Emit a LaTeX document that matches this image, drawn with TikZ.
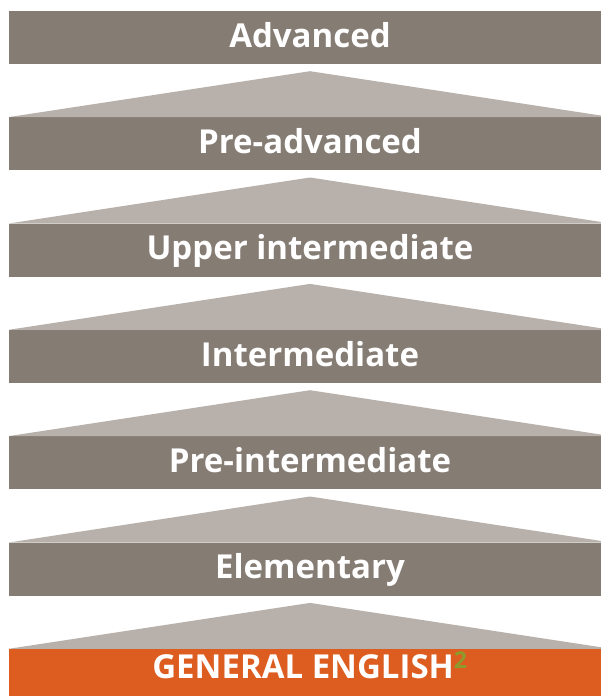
\documentclass[tikz,border=0pt]{standalone}
\usepackage{fontspec}
\setmainfont{Open Sans}
\usepackage{tikz}

\definecolor{barbrown}{HTML}{857C74}
\definecolor{roofgray}{HTML}{B8B1AB}
\definecolor{baseorange}{HTML}{DD5C1F}
\definecolor{supgreen}{HTML}{8C9B2C}

\begin{document}
\begin{tikzpicture}[x=1pt, y=-1pt,
    every node/.style={inner sep=0pt},
    level/.style={rectangle, fill=barbrown, minimum width=602pt, minimum height=53pt,
      text height=25pt, text depth=6pt,
      text=white, font=\bfseries\fontsize{33}{36}\selectfont},
    roof/.style={fill=roofgray}]
    \useasboundingbox (0, 0) rectangle (601, 696);
    \fill [white] (0, 0) rectangle (601, 696);
    \node [level] (adv) at (310, 37.5) {Advanced};
    \node [level] (preadv) at (310, 143.8) {Pre-advanced};
    \node [level] (upper) at (310, 250.2) {Upper intermediate};
    \node [level] (inter) at (310, 356.5) {Intermediate};
    \node [level] (preint) at (310, 462.8) {Pre-intermediate};
    \node [level] (elem) at (310, 569.2) {Elementary};
    \node [level, fill=baseorange, text depth=20pt] (general) at (310, 675.5)
      {GENERAL ENGLISH\textsuperscript{\color{supgreen}2}};
    \fill [roof] ([yshift=-7pt]adv.south) -- (preadv.north west) -- (preadv.north east) -- cycle;
    \fill [roof] ([yshift=-7pt]preadv.south) -- (upper.north west) -- (upper.north east) -- cycle;
    \fill [roof] ([yshift=-7pt]upper.south) -- (inter.north west) -- (inter.north east) -- cycle;
    \fill [roof] ([yshift=-7pt]inter.south) -- (preint.north west) -- (preint.north east) -- cycle;
    \fill [roof] ([yshift=-7pt]preint.south) -- (elem.north west) -- (elem.north east) -- cycle;
    \fill [roof] ([yshift=-7pt]elem.south) -- (general.north west) -- (general.north east) -- cycle;
  \end{tikzpicture}
\end{document}
